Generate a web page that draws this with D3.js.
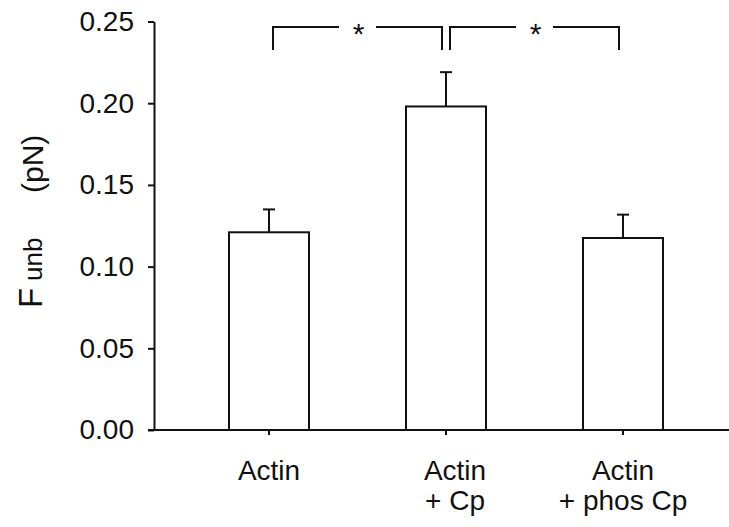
<!DOCTYPE html>
<html lang="en">
<head>
    <meta charset="UTF-8">
    <title>Funb bar chart</title>
    <script src="https://d3js.org/d3.v7.min.js"></script>
    <style>
        body { margin: 0; background: #fff; font-family: "Liberation Sans", Arial, sans-serif; }
        .axis path, .axis line { stroke: #111; stroke-width: 2; }
        .axis text { font-size: 28px; fill: #111; }
    </style>
</head>
<body>
    <script>
        // Data
        const categories = ['Actin', 'Actin + Cp', 'Actin + phos Cp'];
        const labelLines = [['Actin'], ['Actin', '+ Cp'], ['Actin', '+ phos Cp']];
        const means = [0.121, 0.198, 0.1175];
        const errors = [0.014, 0.021, 0.0143];
        const yTicks = [0, 0.05, 0.10, 0.15, 0.20, 0.25];
        const comparisons = [[0, 1], [1, 2]];
        const compLabels = ['*', '*'];

        const W = 729, H = 527;
        const svg = d3.select('body').append('svg')
            .attr('width', W)
            .attr('height', H);

        // Scales
        const y = d3.scaleLinear()
            .domain([0, 0.25])
            .range([430, 21.5]);

        const x = d3.scaleBand()
            .domain(categories)
            .range([180.5, 711.5])
            .paddingInner(0.548)
            .paddingOuter(0.274);

        const cx = d => x(d) + x.bandwidth() / 2;

        // Bars
        svg.selectAll('.bar')
            .data(categories)
          .enter().append('rect')
            .attr('class', 'bar')
            .attr('x', d => x(d))
            .attr('y', (d, i) => y(means[i]))
            .attr('width', x.bandwidth())
            .attr('height', (d, i) => y(0) - y(means[i]))
            .attr('fill', '#fff')
            .attr('stroke', '#111')
            .attr('stroke-width', 2);

        // Error bars (upper only)
        const err = svg.selectAll('.err')
            .data(categories)
          .enter().append('g')
            .attr('class', 'err')
            .attr('stroke', '#111')
            .attr('stroke-width', 2);
        err.append('line')
            .attr('x1', d => cx(d)).attr('x2', d => cx(d))
            .attr('y1', (d, i) => y(means[i]))
            .attr('y2', (d, i) => y(means[i] + errors[i]));
        err.append('line')
            .attr('x1', d => cx(d) - 6).attr('x2', d => cx(d) + 6)
            .attr('y1', (d, i) => y(means[i] + errors[i]))
            .attr('y2', (d, i) => y(means[i] + errors[i]));

        // Y axis
        svg.append('g')
            .attr('class', 'axis')
            .attr('transform', 'translate(154,0)')
            .call(d3.axisLeft(y).tickValues(yTicks).tickFormat(d3.format('.2f'))
                .tickSize(6).tickSizeOuter(0).tickPadding(14));

        // X axis
        const xAxis = svg.append('g')
            .attr('class', 'axis')
            .attr('transform', 'translate(0,430)')
            .call(d3.axisBottom(x).tickSize(5).tickSizeOuter(0).tickFormat(''));
        xAxis.select('.domain').attr('d', 'M148,0H729');

        xAxis.selectAll('.tick').each(function (d, i) {
            const shift = i === 1 ? 9 : 0;   // middle label sits a bit right of its tick
            const t = d3.select(this).append('text')
                .attr('text-anchor', 'middle')
                .attr('y', 50);
            labelLines[i].forEach((line, j) => {
                t.append('tspan')
                    .attr('x', shift)
                    .attr('dy', j === 0 ? 0 : 30)
                    .text(line);
            });
        });

        // Y label: F_unb (pN)
        const ylab = svg.append('text')
            .attr('transform', 'rotate(-90)')
            .attr('fill', '#111');
        ylab.append('tspan').attr('x', -308).attr('y', 42).style('font-size', '33px').text('F');
        ylab.append('tspan').attr('x', -281).attr('y', 42).style('font-size', '26px').text('unb');
        ylab.append('tspan').attr('x', -193).attr('y', 43).style('font-size', '30px').text('(pN)');

        // Significance brackets
        const bTop = 27, bLeg = 50, gap = 18.5;
        comparisons.forEach(([a, b], k) => {
            const x1 = cx(categories[a]) + 4;
            const x2 = cx(categories[b]) - 4;
            const mid = (x1 + x2) / 2;
            const g = svg.append('g')
                .attr('fill', 'none')
                .attr('stroke', '#111')
                .attr('stroke-width', 2);
            g.append('path').attr('d', `M${x1},${bLeg}V${bTop}H${mid - gap}`);
            g.append('path').attr('d', `M${mid + gap},${bTop}H${x2}V${bLeg}`);
            svg.append('text')
                .attr('x', mid + 1)
                .attr('y', 44)
                .attr('text-anchor', 'middle')
                .style('font-size', '30px')
                .attr('fill', '#111')
                .text(compLabels[k]);
        });
    </script>
</body>
</html>
